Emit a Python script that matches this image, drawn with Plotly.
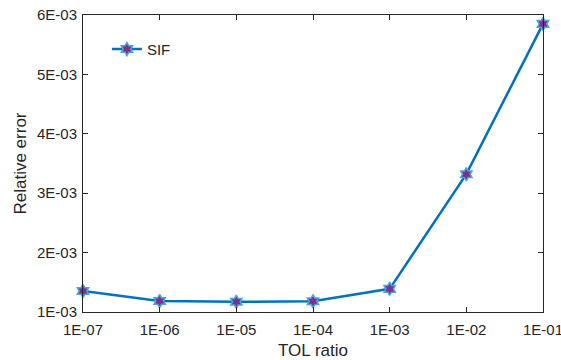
import plotly.graph_objects as go

tol_ratio = [1e-7, 1e-6, 1e-5, 1e-4, 1e-3, 1e-2, 1e-1]
rel_error = [1.354e-3, 1.185e-3, 1.172e-3, 1.180e-3, 1.390e-3, 3.32e-3, 5.85e-3]
x_tickvals = [1e-7, 1e-6, 1e-5, 1e-4, 1e-3, 1e-2, 1e-1]
x_ticktext = ["1E-07", "1E-06", "1E-05", "1E-04", "1E-03", "1E-02", "1E-01"]
y_tickvals = [1e-3, 2e-3, 3e-3, 4e-3, 5e-3, 6e-3]
y_ticktext = ["1E-03", "2E-03", "3E-03", "4E-03", "5E-03", "6E-03"]

fig = go.Figure()
fig.add_trace(go.Scatter(
    x=tol_ratio, y=rel_error, mode="lines+markers", name="SIF",
    line=dict(color="#0072BD", width=2.5),
    marker=dict(symbol="hexagram", size=10, color="#7E2F8E",
                line=dict(color="#4DA3E0", width=1.5)),
    cliponaxis=False,
))

axis_common = dict(
    showline=True, linecolor="#262626", linewidth=1, mirror="ticks",
    ticks="inside", ticklen=5, tickcolor="#262626", showgrid=False,
    zeroline=False, automargin=False, ticklabeloverflow="allow",
    tickfont=dict(family="Liberation Sans, Arial", size=15, color="#262626"),
)
fig.update_layout(
    width=561, height=360,
    margin=dict(l=83, r=18, t=15, b=48),
    paper_bgcolor="white", plot_bgcolor="white",
    font=dict(family="Liberation Sans, Arial", color="#262626"),
    xaxis=dict(type="log", range=[-7.00001, -0.99999], tickvals=x_tickvals, ticktext=x_ticktext,
               ticklabelstandoff=4,
               title=dict(text="TOL ratio", font=dict(size=17), standoff=17), **axis_common),
    yaxis=dict(range=[1e-3, 6e-3], tickvals=y_tickvals, ticktext=y_ticktext,
               ticklabelstandoff=2,
               title=dict(text="Relative error", font=dict(size=17), standoff=6), **axis_common),
    showlegend=True,
    legend=dict(x=0.052, y=0.94, xanchor="left", yanchor="top", bgcolor="rgba(0,0,0,0)",
                font=dict(size=15, color="#262626")),
)
fig.write_html("out.html", config={"displayModeBar": False},
               post_script="document.body.style.margin='0';")
